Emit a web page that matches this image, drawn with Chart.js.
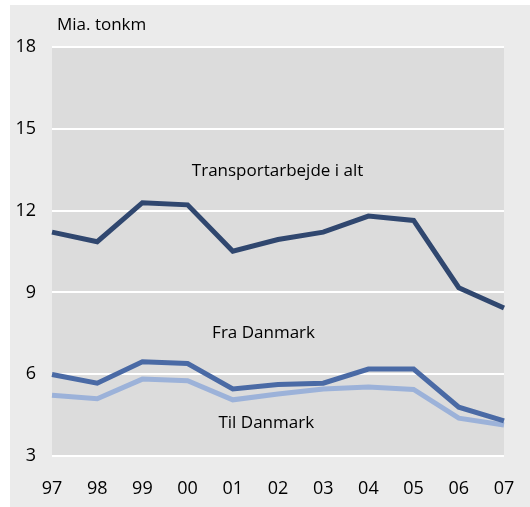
<!DOCTYPE html>
<html>
<head>
<meta charset="utf-8">
<script src="https://cdn.jsdelivr.net/npm/chart.js@4/dist/chart.umd.min.js"></script>
<style>
  body { margin: 0; background: #ffffff; }
  #wrap { position: absolute; left: 10px; top: 5px; width: 520px; height: 502px; background: #ebebeb; }
</style>
</head>
<body>
<div id="wrap"><canvas id="myChart" width="520" height="502"></canvas></div>
<script>
// years on the x axis
var years = ["97", "98", "99", "00", "01", "02", "03", "04", "05", "06", "07"];
// Mia. tonkm
var totalWork = [11.21, 10.86, 12.29, 12.21, 10.51, 10.94, 11.21, 11.80, 11.64, 9.17, 8.43];
var fromDenmark = [5.99, 5.67, 6.46, 6.39, 5.46, 5.62, 5.67, 6.19, 6.19, 4.79, 4.29];
var toDenmark = [5.23, 5.10, 5.82, 5.76, 5.06, 5.27, 5.46, 5.53, 5.44, 4.39, 4.14];
var yTicks = [3, 6, 9, 12, 15, 18];

// line labels, placed in data space (category index, value)
var labelTexts = ["Transportarbejde i alt", "Fra Danmark", "Til Danmark"];
var labelX = [4.99, 4.68, 4.74];
var labelY = [13.46, 7.49, 4.22];

var fontName = "'Open Sans', sans-serif";

const rendering = document.getElementById("myChart").getContext("2d");

// grey plot area + unit text + line labels
var decorations = {
    id: 'decorations',
    beforeDraw: function (chart) {
        let ctx = chart.ctx;
        let a = chart.chartArea;
        ctx.save();
        ctx.fillStyle = '#dcdcdc';
        ctx.fillRect(a.left, a.top, a.right - a.left, a.bottom - a.top);
        ctx.restore();
    },
    afterDraw: function (chart) {
        let ctx = chart.ctx;
        let xs = chart.scales.x;
        let ys = chart.scales.y;
        ctx.save();
        ctx.fillStyle = '#000000';
        ctx.font = "17px " + fontName;
        ctx.textBaseline = 'middle';
        ctx.textAlign = 'left';
        ctx.fillText("Mia. tonkm", 47, 20);
        ctx.textAlign = 'center';
        for (let i = 0; i < labelTexts.length; ++i) {
            let px = xs.getPixelForValue(labelX[i]);
            let py = ys.getPixelForValue(labelY[i]);
            ctx.fillText(labelTexts[i], px, py);
        }
        ctx.restore();
    }
};

function lineSet(name, values, color) {
    return {
        label: name,
        data: values,
        borderColor: color,
        backgroundColor: color,
        borderWidth: 5,
        pointRadius: 0,
        tension: 0,
        fill: false
    };
}

const config = {
    type: 'line',
    data: {
        labels: years,
        datasets: [
            lineSet("Transportarbejde i alt", totalWork, '#30476f'),
            lineSet("Fra Danmark", fromDenmark, '#4a6aa5'),
            lineSet("Til Danmark", toDenmark, '#9cb2d9')
        ]
    },
    options: {
        responsive: false,
        animation: false,
        layout: { padding: { top: 42, right: 26, left: 0, bottom: 0 } },
        plugins: {
            legend: { display: false },
            tooltip: { enabled: false }
        },
        scales: {
            x: {
                offset: false,
                grid: { display: false },
                border: { display: false },
                ticks: {
                    padding: 14,
                    color: '#000000',
                    font: { family: fontName, size: 18 },
                    maxRotation: 0,
                    autoSkip: false
                },
                afterFit: function (scale) { scale.height = 51; }
            },
            y: {
                min: 3,
                max: 18,
                afterBuildTicks: function (scale) {
                    scale.ticks = yTicks.map(function (v) { return { value: v }; });
                },
                grid: { color: '#ffffff', lineWidth: 2, drawTicks: false },
                border: { display: false },
                ticks: {
                    padding: 16,
                    color: '#000000',
                    font: { family: fontName, size: 18 }
                },
                afterFit: function (scale) { scale.width = 42; }
            }
        }
    },
    plugins: [decorations]
};

let renderingChart = new Chart(rendering, config);
</script>
</body>
</html>
